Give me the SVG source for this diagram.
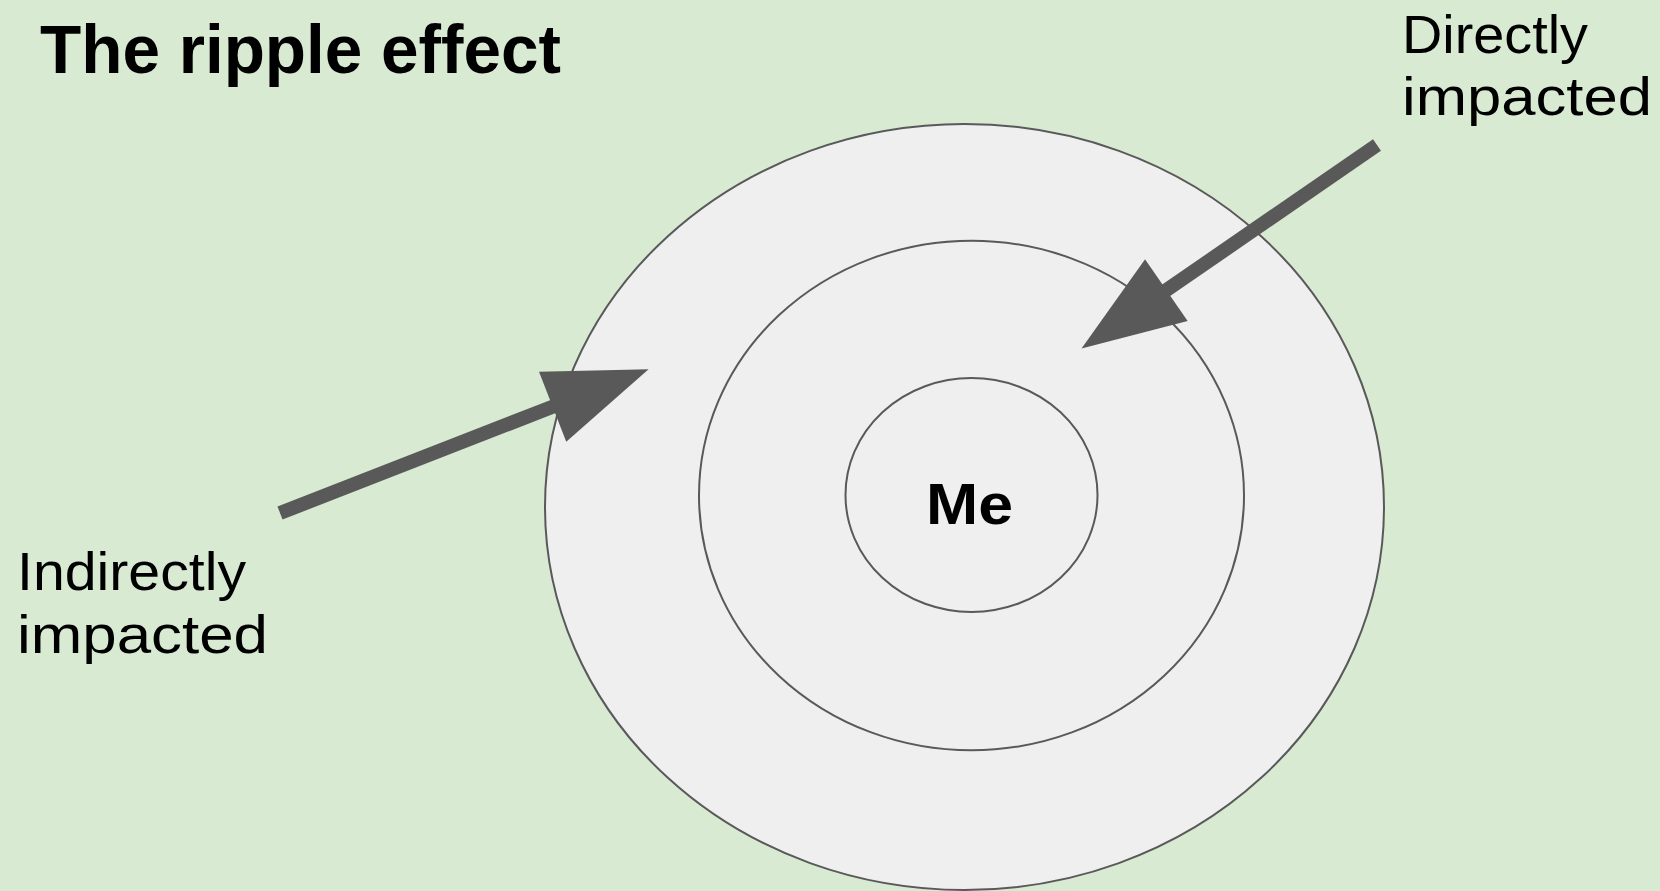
<svg xmlns="http://www.w3.org/2000/svg" width="1660" height="891" viewBox="0 0 1660 891">
<style>
.ring{fill:#efefef;stroke:#595959;stroke-width:2}
.lbl{font-family:"Liberation Sans",Arial,sans-serif;font-size:53px;fill:#000}
.bold{font-family:"Liberation Sans",Arial,sans-serif;font-weight:bold;fill:#000}
.arrow{stroke:#595959;stroke-width:14;fill:none;marker-end:url(#head)}
</style>
<defs>
<marker id="head" markerUnits="userSpaceOnUse" viewBox="0 -40 110 80" markerWidth="110" markerHeight="80" refX="2" refY="0" orient="auto" overflow="visible">
<path d="M0,-37.5 L103,0 L0,37.5 Z" fill="#595959"/>
</marker>
</defs>
<rect width="1660" height="891" fill="#d9ead3"/>
<g id="title"><text class="bold" x="40" y="73" font-size="68" textLength="521" lengthAdjust="spacingAndGlyphs">The ripple effect</text></g>
<g id="outer"><ellipse class="ring" cx="964.5" cy="507" rx="419.5" ry="383"/></g>
<g id="middle"><ellipse class="ring" cx="971.5" cy="495.5" rx="272.5" ry="254.8"/></g>
<g id="inner"><ellipse class="ring" cx="971.5" cy="495" rx="126" ry="117"/>
<text class="bold" x="926" y="524" font-size="58" textLength="87" lengthAdjust="spacingAndGlyphs">Me</text></g>
<g id="directly"><text class="lbl" x="1402" y="52.5" textLength="186" lengthAdjust="spacingAndGlyphs">Directly</text>
<text class="lbl" x="1402" y="115" textLength="250" lengthAdjust="spacingAndGlyphs">impacted</text></g>
<g id="indirectly"><text class="lbl" x="17" y="590" textLength="229" lengthAdjust="spacingAndGlyphs">Indirectly</text>
<text class="lbl" x="17" y="653" textLength="251" lengthAdjust="spacingAndGlyphs">impacted</text></g>
<g id="connectors">
<line class="arrow" x1="280" y1="513" x2="554.5" y2="406"/>
<line class="arrow" x1="1377" y1="145" x2="1164.7" y2="291.3"/>
</g>
</svg>
